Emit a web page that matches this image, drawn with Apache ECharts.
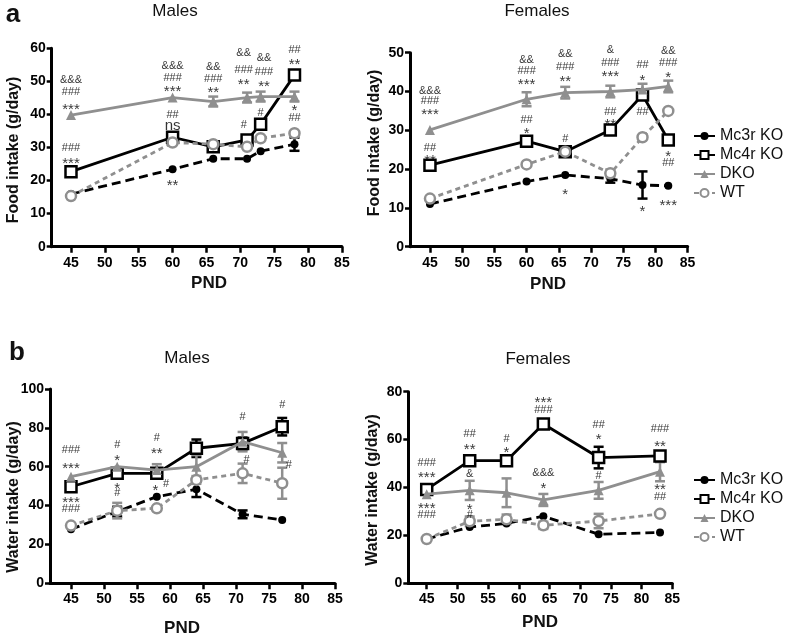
<!DOCTYPE html>
<html><head><meta charset="utf-8">
<script src="https://cdn.jsdelivr.net/npm/echarts@6/dist/echarts.min.js"></script>
<style>html,body{margin:0;padding:0;background:#fff}#c{width:787px;height:635px}</style>
</head><body><div id="c"></div>
<script>
const FONT = 'Liberation Sans, Arial, Helvetica, sans-serif';
const NAMES = ['Mc3r KO', 'Mc4r KO', 'DKO', 'WT'];
const X_TICKS = [45, 50, 55, 60, 65, 70, 75, 80, 85];

// Panel a, Males: food intake
const aM_x = [45, 60, 66, 71, 73, 78];
const aM_Mc3r = [15.9, 23.4, 26.6, 26.6, 28.9, 31.0];
const aM_Mc4r = [22.7, 33.1, 30.2, 32.3, 37.0, 51.9];
const aM_DKO = [39.8, 45.1, 43.9, 45.1, 45.4, 45.4];
const aM_WT = [15.3, 31.5, 31.0, 30.2, 32.8, 34.3];
const aM_Mc3r_err = [0, 0, 0, 0, 0, 2];
const aM_Mc4r_err = [0, 0, 0, 0, 0, 0];
const aM_DKO_err = [0, 0, 1.5, 1.5, 1.5, 1.5];
const aM_WT_err = [0, 0, 0, 0, 0, 0];
const aM_notes = [
  [45, 50.4, '&&&'], [45, 46.8, '###'], [45, 42.6, '***'], [45, 29.8, '###'], [45, 26.2, '***'],
  [60, 54.6, '&&&'], [60, 51.0, '###'], [60, 48.0, '***'], [60, 39.8, '##'], [60, 36.5, 'ns'], [60, 19.6, '**'],
  [66, 54.3, '&&'], [66, 50.7, '###'], [66, 47.7, '**'],
  [70.5, 58.6, '&&'], [70.5, 53.5, '###'], [70.5, 50.1, '**'], [70.5, 36.8, '#'],
  [73.5, 57.1, '&&'], [73.5, 52.8, '###'], [73.5, 49.5, '**'], [73, 40.4, '#'],
  [78, 59.5, '##'], [78, 56.2, '**'], [78, 42.2, '*'], [78, 38.9, '##']
];

// Panel a, Females: food intake
const aF_x = [45, 60, 66, 73, 78, 82];
const aF_Mc3r = [11.0, 16.8, 18.5, 17.5, 15.9, 15.7];
const aF_Mc4r = [21.0, 27.2, 24.5, 30.1, 39.1, 27.5];
const aF_DKO = [30.1, 38.0, 39.7, 40.0, 40.5, 41.3];
const aF_WT = [12.4, 21.2, 24.5, 18.9, 28.2, 35.0];
const aF_Mc3r_err = [0, 0, 0, 1, 3.5, 0];
const aF_Mc4r_err = [0, 0, 0, 0, 0, 0];
const aF_DKO_err = [0, 1.8, 1.5, 1.5, 1.5, 1.5];
const aF_WT_err = [0, 0, 0, 1, 0, 0];
const aF_notes = [
  [45, 40.2, '&&&'], [45, 37.5, '###'], [45, 34.9, '***'], [45, 25.4, '##'], [45, 23.2, '**'],
  [60, 48.1, '&&'], [60, 45.3, '###'], [60, 42.7, '***'], [60, 32.7, '##'], [60, 30.1, '*'],
  [66, 49.8, '&&'], [66, 46.4, '###'], [66, 43.5, '**'], [66, 27.8, '#'], [66, 14.3, '*'],
  [73, 50.7, '&'], [73, 47.3, '###'], [73, 44.7, '***'], [73, 34.8, '##'], [73, 32.5, '**'],
  [78, 46.8, '##'], [78, 43.8, '*'], [78, 34.8, '##'], [78, 10.0, '*'],
  [82, 50.4, '&&'], [82, 47.3, '###'], [82, 44.5, '*'], [82, 24.1, '*'], [82, 21.5, '##'], [82, 11.6, '***']
];

// Panel b, Males: water intake
const bM_x = [45, 52, 58, 64, 71, 77];
const bM_Mc3r = [27.8, 36.9, 44.6, 48.4, 35.5, 32.6];
const bM_Mc4r = [49.7, 56.6, 56.6, 69.5, 72.0, 80.6];
const bM_DKO = [54.9, 60.0, 58.3, 60.0, 72.9, 67.2];
const bM_WT = [29.7, 37.4, 38.6, 53.2, 56.6, 51.5];
const bM_Mc3r_err = [0, 2.5, 0, 4, 2, 0];
const bM_Mc4r_err = [0, 0, 0, 4.5, 3, 4.5];
const bM_DKO_err = [0, 0, 3, 6, 5, 5];
const bM_WT_err = [0, 4, 0, 2, 5, 8];
const bM_notes = [
  [45, 68.6, '###'], [45, 60.9, '***'], [45, 43.7, '***'], [45, 38.1, '###'],
  [52, 71.2, '#'], [52, 65.2, '*'], [52, 50.9, '*'], [52, 46.7, '#'],
  [58, 74.6, '#'], [58, 68.6, '**'], [57.8, 49.7, '*'], [59.4, 50.9, '#'],
  [71, 85.8, '#'], [71.6, 63.5, '#'],
  [77, 91.8, '#'], [78, 60.9, '#']
];

// Panel b, Females: water intake
const bF_x = [45, 52, 58, 64, 73, 83];
const bF_Mc3r = [18.5, 23.5, 25.0, 28.0, 20.5, 21.2];
const bF_Mc4r = [39.2, 51.2, 51.2, 66.5, 52.5, 53.2];
const bF_DKO = [37.2, 38.8, 37.8, 34.8, 38.8, 46.6];
const bF_WT = [18.5, 25.9, 26.7, 24.2, 26.0, 29.0];
const bF_Mc3r_err = [0, 0, 0, 0, 0, 0];
const bF_Mc4r_err = [0, 0, 0, 0, 4.5, 0];
const bF_DKO_err = [0, 4, 6, 2.5, 3.5, 4];
const bF_WT_err = [0, 2, 2, 1.5, 3, 0];
const bF_notes = [
  [45, 50.3, '###'], [45, 45.5, '***'], [45, 32.7, '***'], [45, 28.5, '###'],
  [52, 62.2, '##'], [52, 57.3, '**'], [52, 45.6, '&'], [52, 32.3, '*'], [52, 28.5, '#'],
  [58, 60.2, '#'], [58, 56.0, '*'],
  [64, 77.2, '***'], [64, 72.3, '###'], [64, 45.9, '&&&'], [64, 41.0, '*'],
  [73, 66.1, '##'], [73, 61.5, '*'], [73, 44.8, '#'],
  [83, 64.3, '###'], [83, 58.7, '**'], [83, 40.6, '**'], [83, 36.2, '##']
];

const Y_MAX = [60, 50, 100, 80];
const Y_INT = [10, 10, 20, 20];
const X_MIN = [42.15, 41.9, 41.82, 42.0];

// ---- build ----
const GRAY = '#8f8f8f';
const STY = [
  { color: '#000', type: [9, 5], symbol: 'circle', size: 8, fill: '#000', bw: 0 },
  { color: '#000', type: 'solid', symbol: 'rect', size: 11, fill: '#fff', bw: 2.5 },
  { color: GRAY, type: 'solid', symbol: 'triangle', size: 10, fill: GRAY, bw: 0 },
  { color: GRAY, type: [5, 4], symbol: 'circle', size: 10, fill: '#fff', bw: 2.5 }
];
const GRIDS = [
  { left: 51.7, top: 48.3, width: 290.2, height: 198.4 },
  { left: 410, top: 52.7, width: 277.6, height: 194 },
  { left: 50, top: 389, width: 285, height: 194.3 },
  { left: 408.3, top: 391.7, width: 264, height: 191.6 }
];
const PANELS = [
  { x: aM_x, ys: [aM_Mc3r, aM_Mc4r, aM_DKO, aM_WT], es: [aM_Mc3r_err, aM_Mc4r_err, aM_DKO_err, aM_WT_err], notes: aM_notes },
  { x: aF_x, ys: [aF_Mc3r, aF_Mc4r, aF_DKO, aF_WT], es: [aF_Mc3r_err, aF_Mc4r_err, aF_DKO_err, aF_WT_err], notes: aF_notes },
  { x: bM_x, ys: [bM_Mc3r, bM_Mc4r, bM_DKO, bM_WT], es: [bM_Mc3r_err, bM_Mc4r_err, bM_DKO_err, bM_WT_err], notes: bM_notes },
  { x: bF_x, ys: [bF_Mc3r, bF_Mc4r, bF_DKO, bF_WT], es: [bF_Mc3r_err, bF_Mc4r_err, bF_DKO_err, bF_WT_err], notes: bF_notes }
];

const xAxes = [], yAxes = [], series = [];
PANELS.forEach((p, i) => {
  xAxes.push({
    type: 'value', gridIndex: i, min: X_MIN[i], max: 85,
    axisLine: { show: true, onZero: false, lineStyle: { color: '#000', width: 3 } },
    axisTick: { show: true, length: 6, customValues: X_TICKS, lineStyle: { color: '#000', width: 2.5 } },
    axisLabel: { customValues: X_TICKS, color: '#000', fontWeight: 'bold', fontSize: 14, fontFamily: FONT, margin: 9 },
    splitLine: { show: false }
  });
  yAxes.push({
    type: 'value', gridIndex: i, min: 0, max: Y_MAX[i], interval: Y_INT[i],
    axisLine: { show: true, onZero: false, lineStyle: { color: '#000', width: 3 } },
    axisTick: { show: true, length: 5, lineStyle: { color: '#000', width: 2.5 } },
    axisLabel: { color: '#000', fontWeight: 'bold', fontSize: 14, fontFamily: FONT, margin: 6 },
    splitLine: { show: false }
  });
  // error bars
  p.ys.forEach((ys, k) => {
    const es = p.es[k];
    const data = [];
    p.x.forEach((x, j) => { if (es[j] > 0) data.push([x, ys[j] - es[j], ys[j] + es[j]]); });
    if (!data.length) return;
    series.push({
      type: 'custom', xAxisIndex: i, yAxisIndex: i, silent: true, z: 2 + k,
      encode: { x: 0, y: [1, 2] }, data: data,
      renderItem: (params, api) => {
        const lo = api.coord([api.value(0), api.value(1)]);
        const hi = api.coord([api.value(0), api.value(2)]);
        const w = 5;
        const st = { stroke: STY[k].color, lineWidth: 2.5 };
        return { type: 'group', children: [
          { type: 'line', shape: { x1: lo[0], y1: lo[1], x2: hi[0], y2: hi[1] }, style: st },
          { type: 'line', shape: { x1: lo[0] - w, y1: lo[1], x2: lo[0] + w, y2: lo[1] }, style: st },
          { type: 'line', shape: { x1: hi[0] - w, y1: hi[1], x2: hi[0] + w, y2: hi[1] }, style: st }
        ] };
      }
    });
  });
  // lines
  p.ys.forEach((ys, k) => {
    const s = STY[k];
    series.push({
      name: NAMES[k], type: 'line', xAxisIndex: i, yAxisIndex: i, z: 10 + k,
      data: p.x.map((x, j) => [x, ys[j]]),
      symbol: s.symbol, symbolSize: s.size, showSymbol: true, silent: true,
      lineStyle: { color: s.color, width: 2.8, type: s.type },
      itemStyle: { color: s.fill, borderColor: s.color, borderWidth: s.bw },
      emphasis: { disabled: true }, animation: false
    });
  });
  // annotations
  series.push({
    type: 'scatter', xAxisIndex: i, yAxisIndex: i, symbolSize: 0, silent: true, clip: false, z: 30,
    data: p.notes.map(n => ({
      value: [n[0], n[1]], name: n[2],
      label: n[2].indexOf('*') >= 0 ? { fontSize: 15, offset: [0, 4] } :
             (n[2] === 'ns' ? { fontSize: 15 } : { fontSize: 11 })
    })),
    label: { show: true, position: 'inside', formatter: '{b}', color: '#000', fontFamily: FONT },
    animation: false
  });
});

const legendBase = {
  data: NAMES, orient: 'vertical', left: 693, padding: 0, itemGap: 3, itemWidth: 21, itemHeight: 10,
  selectedMode: false, textStyle: { fontSize: 16, fontFamily: FONT, color: '#111' }
};

const txt = (x, y, text, size, weight, rot) => ({
  type: 'text', x: x, y: y, rotation: rot || 0,
  style: { text: text, fontSize: size, fontWeight: weight || 'normal', fontFamily: FONT, fill: '#111', textAlign: 'center', textVerticalAlign: 'middle' }
});

const chart = echarts.init(document.getElementById('c'), null, { renderer: 'canvas' });
chart.setOption({
  animation: false,
  backgroundColor: '#fff',
  grid: GRIDS,
  xAxis: xAxes,
  yAxis: yAxes,
  legend: [Object.assign({ top: 128 }, legendBase), Object.assign({ top: 472 }, legendBase)],
  series: series,
  graphic: [
    txt(13, 15, 'a', 26, 'bold'),
    txt(17, 353, 'b', 26, 'bold'),
    txt(175, 11, 'Males', 17),
    txt(537, 11, 'Females', 17),
    txt(187, 358, 'Males', 17),
    txt(538, 359, 'Females', 17),
    txt(209, 283, 'PND', 17, 'bold'),
    txt(548, 284, 'PND', 17, 'bold'),
    txt(182, 628, 'PND', 17, 'bold'),
    txt(540, 622, 'PND', 17, 'bold'),
    txt(14, 150, 'Food intake (g/day)', 16, 'bold', Math.PI / 2),
    txt(375, 143, 'Food intake (g/day)', 16, 'bold', Math.PI / 2),
    txt(14, 497, 'Water intake (g/day)', 16, 'bold', Math.PI / 2),
    txt(373, 490, 'Water intake (g/day)', 16, 'bold', Math.PI / 2)
  ]
});
</script></body></html>
